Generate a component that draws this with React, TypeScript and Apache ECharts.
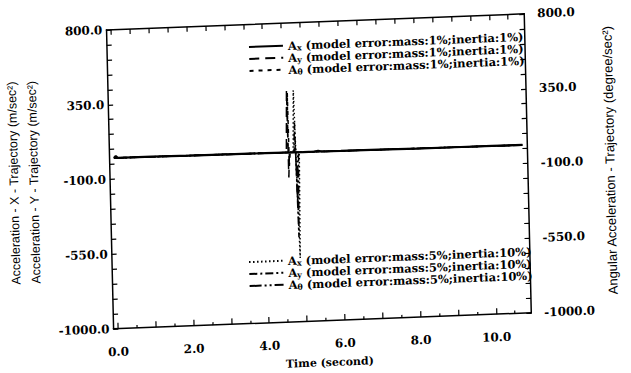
import React, { useEffect, useRef } from "react";
import * as echarts from "echarts";

// ---- axis configuration data ----
const X_MIN = -0.12;
const X_MAX = 10.93;
const X_LABELS = [0, 2, 4, 6, 8, 10];
const X_MAJOR_TICKS = [0, 1, 2, 3, 4, 5, 6, 7, 8, 9, 10];
const X_MINOR_TICKS = [0.5, 1.5, 2.5, 3.5, 4.5, 5.5, 6.5, 7.5, 8.5, 9.5, 10.5];
const X_TOP_TICKS = [0, 0.5, 1, 1.5, 2, 2.5, 3, 3.5, 4, 4.5, 5, 5.5, 6, 6.5, 7, 7.5, 8, 8.5, 9, 9.5, 10, 10.5];
const Y_MIN = -1000;
const Y_MAX = 800;
const Y_LABELS = [-1000, -550, -100, 350, 800];
const Y_TICKS = [-1000, -910, -820, -730, -640, -550, -460, -370, -280, -190, -100, -10, 80, 170, 260, 350, 440, 530, 620, 710, 800];

// ---- series data (time in seconds, acceleration values) ----
const T_AX1 = [0, 0.05, 0.1, 1, 2, 3, 4, 4.5, 5, 5.3, 5.4, 5.5, 6, 7, 8, 9, 10, 10.8];
const V_AX1 = [28, 40, 28, 27, 25, 24, 22, 21, 20, 20, 24, 19, 18, 17, 15, 14, 13, 12];

const T_AY1 = [0, 1, 2, 3, 4, 4.56, 4.6, 4.61, 4.64, 5, 6, 7, 8, 9, 10, 10.8];
const V_AY1 = [27, 26, 25, 23, 22, 21, 396, -130, 21, 20, 18, 17, 15, 14, 13, 12];

const T_AT1 = [0, 1, 2, 3, 4, 4.6, 4.62, 4.63, 4.66, 5, 6, 7, 8, 9, 10, 10.8];
const V_AT1 = [29, 27, 26, 24, 23, 21, 380, -60, 21, 20, 19, 17, 16, 14, 13, 12];

const T_AX5 = [0, 1, 2, 3, 4, 4.74, 4.78, 4.86, 4.9, 5, 6, 7, 8, 9, 10, 10.8];
const V_AX5 = [28, 26, 25, 24, 22, 21, 394, -617, 20, 20, 18, 17, 15, 14, 13, 12];

const T_AY5 = [0, 1, 2, 3, 4, 4.76, 4.79, 4.84, 4.88, 5, 6, 7, 8, 9, 10, 10.8];
const V_AY5 = [27, 26, 24, 23, 22, 21, 200, -490, 20, 20, 18, 16, 15, 14, 13, 11];

const T_AT5 = [0, 1, 2, 3, 4, 4.77, 4.8, 4.83, 4.86, 5, 6, 7, 8, 9, 10, 10.8];
const V_AT5 = [28, 27, 25, 24, 22, 21, 60, -300, 20, 19, 18, 17, 15, 14, 12, 12];

const SERIES_NAMES = ["Ax1", "Ay1", "At1", "Ax5", "Ay5", "At5"];
const SUBS: Record<string, string> = { Ax1: "x", Ay1: "y", At1: "θ", Ax5: "x", Ay5: "y", At5: "θ" };
const DESCS: Record<string, string> = {
  Ax1: "(model error:mass:1%;inertia:1%)",
  Ay1: "(model error:mass:1%;inertia:1%)",
  At1: "(model error:mass:1%;inertia:1%)",
  Ax5: "(model error:mass:5%;inertia:10%)",
  Ay5: "(model error:mass:5%;inertia:10%)",
  At5: "(model error:mass:5%;inertia:10%)",
};

const SERIF = "DejaVu Serif";
const INK = "#000";

function pts(t: number[], v: number[]) {
  return t.map((x, i) => [x, v[i]]);
}

function legendStyle() {
  return {
    fontFamily: SERIF,
    fontWeight: "bold" as const,
    fontSize: 11.5,
    color: INK,
    rich: {
      a: { fontFamily: SERIF, fontWeight: "bold", fontSize: 11.5, lineHeight: 11, verticalAlign: "top", color: INK },
      s: { fontFamily: SERIF, fontWeight: "bold", fontSize: 8, lineHeight: 9, padding: [4, 0, 0, 0], verticalAlign: "top", color: INK },
      t: { fontFamily: SERIF, fontWeight: "bold", fontSize: 11.5, lineHeight: 11, verticalAlign: "top", color: INK },
    },
  };
}

function legendFormatter(name: string) {
  return `{a|A}{s|${SUBS[name]}}{t| ${DESCS[name]}}`;
}

export default function App() {
  const ref = useRef<HTMLDivElement>(null);
  useEffect(() => {
    if (!ref.current) return;
    const chart = echarts.init(ref.current, null, { renderer: "svg" });
    const tickLabel = { fontFamily: SERIF, fontWeight: "bold" as const, fontSize: 12, color: INK, lineHeight: 14 };
    const axisLine = { show: true, onZero: false, lineStyle: { color: INK, width: 1.5 } };
    const mk = (name: string, t: number[], v: number[], type: any, width: number) => ({
      name,
      type: "line",
      data: pts(t, v),
      showSymbol: false,
      symbol: "none",
      xAxisIndex: 0,
      yAxisIndex: 0,
      lineStyle: { color: INK, width, type },
      itemStyle: { color: INK },
      emphasis: { disabled: true },
      silent: true,
    });
    const legendBase = {
      orient: "vertical",
      padding: 0,
      itemGap: 0,
      itemWidth: 34,
      itemHeight: 10,
      selectedMode: false,
      formatter: legendFormatter,
      textStyle: legendStyle(),
      itemStyle: { color: "rgba(0,0,0,0)", borderWidth: 0, opacity: 0 },
    };
    const option: any = {
      animation: false,
      backgroundColor: "#fff",
      grid: { left: 106, top: 20, width: 426, height: 305, containLabel: false },
      xAxis: [
        {
          type: "value",
          position: "bottom",
          min: X_MIN,
          max: X_MAX,
          axisLine,
          splitLine: { show: false },
          axisTick: { show: true, inside: true, length: 6, customValues: X_MAJOR_TICKS, lineStyle: { color: INK, width: 1.2 } },
          axisLabel: {
            ...tickLabel,
            margin: 16,
            customValues: X_LABELS,
            formatter: (v: number) => v.toFixed(1),
          },
          name: "Time (second)",
          nameLocation: "middle",
          nameGap: 34,
          nameTextStyle: { fontFamily: SERIF, fontWeight: "bold", fontSize: 11, color: INK, lineHeight: 14, padding: [0, 0, 0, 13] },
        },
        {
          type: "value",
          position: "bottom",
          min: X_MIN,
          max: X_MAX,
          axisLine: { show: false, onZero: false },
          splitLine: { show: false },
          axisTick: { show: true, inside: true, length: 3, customValues: X_MINOR_TICKS, lineStyle: { color: INK, width: 1.2 } },
          axisLabel: { show: false },
        },
        {
          type: "value",
          position: "top",
          min: X_MIN,
          max: X_MAX,
          axisLine,
          splitLine: { show: false },
          axisTick: { show: true, inside: true, length: 5, customValues: X_TOP_TICKS, lineStyle: { color: INK, width: 1.2 } },
          axisLabel: { show: false },
        },
      ],
      yAxis: [
        {
          type: "value",
          position: "left",
          min: Y_MIN,
          max: Y_MAX,
          axisLine,
          splitLine: { show: false },
          axisTick: { show: true, inside: true, length: 5, customValues: Y_TICKS, lineStyle: { color: INK, width: 1.2 } },
          axisLabel: { ...tickLabel, margin: 4, customValues: Y_LABELS, formatter: (v: number) => v.toFixed(1) },
          name: "Acceleration - X - Trajectory (m/sec²)\nAcceleration - Y - Trajectory (m/sec²)",
          nameLocation: "middle",
          nameRotate: 90,
          nameGap: 51,
          nameTextStyle: { fontFamily: "Liberation Sans", fontSize: 12.5, lineHeight: 20, color: INK },
        },
        {
          type: "value",
          position: "right",
          min: Y_MIN,
          max: Y_MAX,
          axisLine,
          splitLine: { show: false },
          axisTick: { show: true, inside: true, length: 5, customValues: Y_TICKS, lineStyle: { color: INK, width: 1.2 } },
          axisLabel: { ...tickLabel, margin: 13, customValues: Y_LABELS, formatter: (v: number) => v.toFixed(1) },
          name: "Angular Acceleration - Trajectory (degree/sec²)",
          nameLocation: "middle",
          nameRotate: 90,
          nameGap: 71,
          nameTextStyle: { fontFamily: "Liberation Sans", fontSize: 13, lineHeight: 15, color: INK },
        },
      ],
      legend: [
        { ...legendBase, left: 255, top: 37, data: ["Ax1", "Ay1", "At1"] },
        { ...legendBase, left: 250, top: 252, data: ["Ax5", "Ay5", "At5"] },
      ],
      series: [
        mk(SERIES_NAMES[0], T_AX1, V_AX1, "solid", 2.2),
        mk(SERIES_NAMES[1], T_AY1, V_AY1, [10, 6], 1.5),
        mk(SERIES_NAMES[2], T_AT1, V_AT1, [4, 5], 1.5),
        mk(SERIES_NAMES[3], T_AX5, V_AX5, [1.5, 2.5], 1.5),
        mk(SERIES_NAMES[4], T_AY5, V_AY5, [8, 3, 2, 3], 1.5),
        mk(SERIES_NAMES[5], T_AT5, V_AT5, [12, 3, 2, 3, 2, 3], 1.5),
      ],
    };
    chart.setOption(option);
    return () => chart.dispose();
  }, []);

  return (
    <div style={{ position: "absolute", left: 0, top: 0, width: 631, height: 373, background: "#fff", overflow: "hidden" }}>
      <div
        ref={ref}
        style={{
          width: 631,
          height: 373,
          transform: "matrix(0.99926, -0.03839, 0.02356, 0.99972, -4, 2)",
          transformOrigin: "319px 173px",
        }}
      />
    </div>
  );
}
